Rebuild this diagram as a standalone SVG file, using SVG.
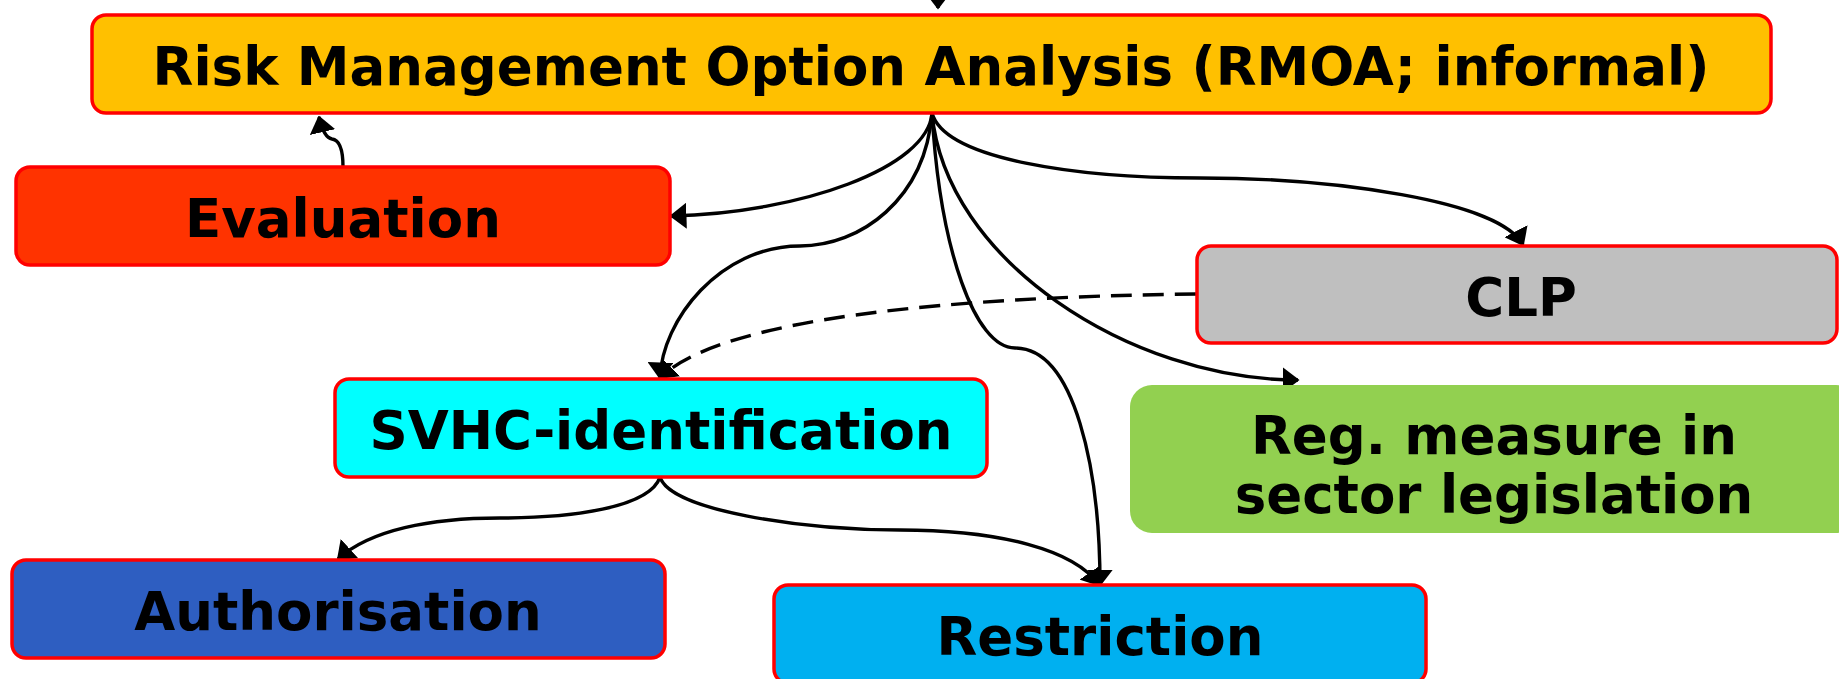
<svg xmlns="http://www.w3.org/2000/svg" width="1839" height="679" viewBox="0 0 1839 679">
  <style>
    .box { stroke: #FF0000; stroke-width: 3.5; }
    .label { font-family: "DejaVu Sans", Verdana, sans-serif; font-weight: bold; font-size: 53px; fill: #000000; text-anchor: middle; }
    .edge { fill: none; stroke: #000000; stroke-width: 3.4; }
    .dashed { stroke-dasharray: 21 11; }
  </style>
  <defs>
    <marker id="arrow" markerUnits="userSpaceOnUse" viewBox="0 0 17 26" markerWidth="17" markerHeight="26" refX="15.5" refY="13" orient="auto">
      <path d="M0,0 L17,13 L0,26 Z" fill="#000000"/>
    </marker>
  </defs>

  <rect width="1839" height="679" fill="#FFFFFF"/>

  <!-- connectors -->
  <g id="connectors">
    <path class="edge" d="M938,-40 L938,8" marker-end="url(#arrow)"/>
    <path class="edge" d="M932,113 C928,168 800,213 671,216" marker-end="url(#arrow)"/>
    <path class="edge" d="M343,167 C343,150 340,140 332,139 C326,138 322,130 319,117" marker-end="url(#arrow)"/>
    <path class="edge" d="M932,113 C925,200 860,246 800,246 C720,246 662,320 660,378" marker-end="url(#arrow)"/>
    <path class="edge dashed" d="M1196,294 C950,297 720,318 660,378" marker-end="url(#arrow)"/>
    <path class="edge" d="M932,113 C940,250 975,348 1015,348 C1075,348 1100,470 1100,585" marker-end="url(#arrow)"/>
    <path class="edge" d="M932,113 C945,160 1080,178 1200,178 C1330,178 1500,200 1523,245" marker-end="url(#arrow)"/>
    <path class="edge" d="M932,113 C945,260 1130,380 1298,380" marker-end="url(#arrow)"/>
    <path class="edge" d="M660,477 C650,508 570,518 500,518 C430,518 370,530 338,559" marker-end="url(#arrow)"/>
    <path class="edge" d="M660,477 C670,510 800,530 900,530 C1000,530 1075,550 1099,585" marker-end="url(#arrow)"/>
  </g>

  <g id="rmoa">
    <rect class="box" x="92" y="15" width="1679" height="98" rx="14" fill="#FFC000"/>
    <text class="label" x="931" y="85">Risk Management Option Analysis (RMOA; informal)</text>
  </g>

  <g id="evaluation">
    <rect class="box" x="16" y="167" width="654" height="98" rx="14" fill="#FF3300"/>
    <text class="label" x="343" y="237">Evaluation</text>
  </g>

  <g id="clp">
    <rect class="box" x="1197" y="246" width="640" height="97" rx="14" fill="#BFBFBF"/>
    <text class="label" x="1521" y="316">CLP</text>
  </g>

  <g id="sector-legislation">
    <rect x="1130" y="385" width="728" height="148" rx="22" fill="#92D050"/>
    <text class="label" x="1494" y="454">Reg. measure in</text>
    <text class="label" x="1494" y="513">sector legislation</text>
  </g>

  <g id="svhc">
    <rect class="box" x="335" y="379" width="652" height="98" rx="14" fill="#00FFFF"/>
    <text class="label" x="661" y="449">SVHC-identification</text>
  </g>

  <g id="authorisation">
    <rect class="box" x="12" y="560" width="653" height="98" rx="14" fill="#2E5EC1"/>
    <text class="label" x="338" y="630">Authorisation</text>
  </g>

  <g id="restriction">
    <rect class="box" x="774" y="585" width="652" height="98" rx="14" fill="#00B0F0"/>
    <text class="label" x="1100" y="655">Restriction</text>
  </g>
</svg>
